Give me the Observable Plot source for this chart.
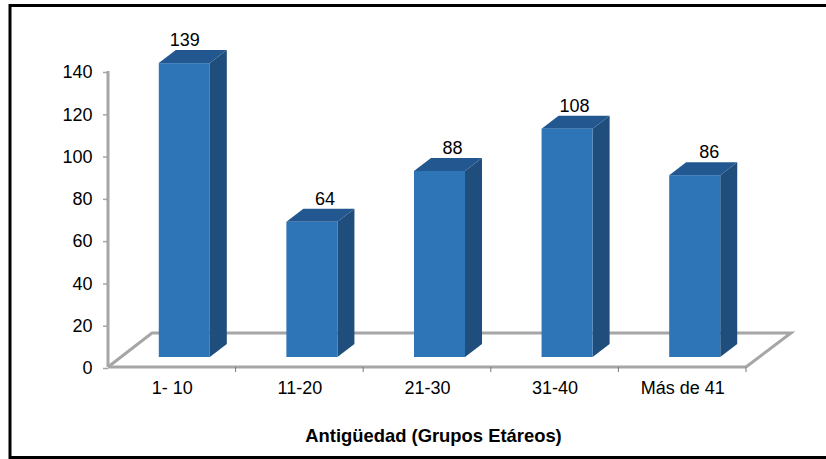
<!DOCTYPE html>
<html>
<head>
<meta charset="utf-8">
<style>html,body{margin:0;padding:0;background:#fff;overflow:hidden}svg{display:block}</style>
<script src="https://cdn.jsdelivr.net/npm/d3@7"></script>
<script src="https://cdn.jsdelivr.net/npm/@observablehq/plot@0.6"></script>
</head>
<body>
<div id="chart"></div>
<script>
const categories = ["1- 10", "11-20", "21-30", "31-40", "Más de 41"];
const values = [139, 64, 88, 108, 86];
const yTicks = [0, 20, 40, 60, 80, 100, 120, 140];
const xTitle = "Antigüedad (Grupos Etáreos)";
// hand-placed label nudges of the original, px from the bar's centre
const labelNudge = [0, 12.5, 12.5, 7, 14];

const rows = categories.map((category, i) => ({category, value: values[i], nudge: labelNudge[i]}));
const FONT = "'Liberation Sans', Arial, sans-serif";
const GREY = "#a6a6a6";
const frontDx = 12.5, frontDy = -10, depthX = 17, depthY = -13, floorX = 45, floorY = -34;

const svgNS = "http://www.w3.org/2000/svg";
const addPath = (g, d, attrs) => {
  const p = document.createElementNS(svgNS, "path");
  p.setAttribute("d", d);
  for (const k in attrs) p.setAttribute(k, attrs[k]);
  g.appendChild(p);
};
const group = (build) => (index, scales, vals, dims) => {
  const g = document.createElementNS(svgNS, "g");
  build(g, scales, dims);
  return g;
};

const floor = group((g, s, dims) => {
  const x0 = dims.marginLeft, x1 = dims.width - dims.marginRight, y0 = s.y(0);
  addPath(g, `M${x0},${y0}L${x0 + floorX - 1},${y0 + floorY}H${x1 + floorX}L${x1},${y0}`, {fill: "none", stroke: GREY, "stroke-width": 3});
  addPath(g, `M${x0},${y0}H${x1}`, {stroke: GREY, "stroke-width": 3});
  addPath(g, `M${x0},${s.y(140)}V${y0}`, {stroke: GREY, "stroke-width": 3});
  s.x.domain().forEach((c, i) => {
    const tx = s.x(c) - (s.x.step() - s.x.bandwidth()) / 2;
    if (i > 0) addPath(g, `M${tx},${y0}v5`, {stroke: "#777", "stroke-width": 1});
  });
  addPath(g, `M${x1},${y0}v5`, {stroke: "#777", "stroke-width": 1});
});

const sides = group((g, s) => {
  const w = s.x.bandwidth();
  rows.forEach(r => {
    const l = s.x(r.category) + frontDx, t = s.y(r.value) + frontDy, b = s.y(0) + frontDy, rr = l + w;
    addPath(g, `M${rr},${t}l${depthX},${depthY}V${b + depthY}L${rr},${b}Z`, {fill: "#1f4e7c"});
    addPath(g, `M${l},${t}l${depthX},${depthY}H${rr + depthX}L${rr},${t}Z`, {fill: "#22588f"});
  });
});

const border = group((g) => {
  addPath(g, "M10,459V5.5H826", {fill: "none", stroke: "#000", "stroke-width": 3});
  addPath(g, "M10,457.5H826", {fill: "none", stroke: "#000", "stroke-width": 3});
});

const chart = Plot.plot({
  width: 826, height: 459,
  marginLeft: 108, marginRight: 80, marginTop: 71, marginBottom: 92,
  style: {fontFamily: FONT, background: "#fff", overflow: "visible"},
  x: {domain: categories, label: null, paddingInner: 0.6, paddingOuter: 0.3, align: 0.5, round: false, axis: null},
  y: {domain: [0, 140], label: null, axis: null},
  marks: [
    border,
    floor,
    Plot.axisY(yTicks, {tickSize: 5, tickPadding: 11, fontSize: 18, stroke: GREY, fill: "#000", label: null, strokeWidth: 1.5, textStroke: "none", dy: 1}),
    Plot.axisX(categories, {tickSize: 0, tickPadding: 14, fontSize: 18, fill: "#000", label: null}),
    sides,
    Plot.barY(rows, {x: "category", y: "value", dx: frontDx, dy: frontDy, fill: "#2e75b8"}),
    ...rows.map(r => Plot.text([r], {x: "category", y: "value", text: d => String(d.value), dx: frontDx + r.nudge, dy: -33, fontSize: 18, fill: "#000"})),
    Plot.text([xTitle], {frameAnchor: "bottom", text: d => d, dy: 74, dx: 6, fontSize: 18.4, fontWeight: "bold", fill: "#000"})
  ]
});
document.getElementById("chart").appendChild(chart);
</script>
</body>
</html>
